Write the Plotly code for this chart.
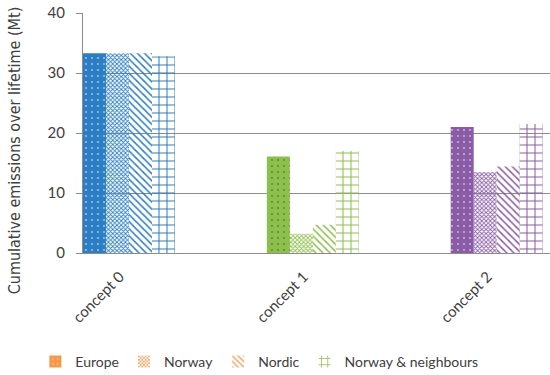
import plotly.graph_objects as go

categories = ["concept 0", "concept 1", "concept 2"]
series_names = ["Europe", "Norway", "Nordic", "Norway & neighbours"]
europe = [33.3, 16.1, 21.0]
norway = [33.3, 3.2, 13.5]
nordic = [33.3, 4.7, 14.4]
norway_neighbours = [32.8, 17.0, 21.5]
y_ticks = [0, 10, 20, 30, 40]
y_title = "Cumulative emissions over lifetime (Mt)"

cat_colors = ["#2B7EC4", "#8CC04B", "#8A5CA8"]
legend_colors = ["#F79646", "#F79646", "#F79646", "#9BBB59"]

series_values = [europe, norway, nordic, norway_neighbours]
FONT = "Lato"
TXT = "#404040"

def pattern(i, colors):
    if i == 0:
        return dict(shape=".", fgcolor="white", size=6, solidity=0.1, fillmode="overlay")
    if i == 1:
        return dict(shape="x", bgcolor="white", fgcolor=colors, size=3, solidity=0.5, fillmode="replace")
    if i == 2:
        return dict(shape="\\", bgcolor="white", fgcolor=colors, size=5, solidity=0.3, fillmode="replace")
    return dict(shape="+", bgcolor="white", fgcolor=colors, size=8, solidity=0.24, fillmode="replace")

fig = go.Figure()
for i, (name, vals) in enumerate(zip(series_names, series_values)):
    fig.add_trace(go.Bar(
        x=categories, y=vals, name=name, showlegend=False,
        offsetgroup=str(i),
        marker=dict(color=cat_colors, line=dict(width=0),
                    pattern=pattern(i, cat_colors)),
    ))
for i, name in enumerate(series_names):
    c = legend_colors[i]
    fig.add_trace(go.Bar(
        x=categories, y=[None] * len(categories), name=name, showlegend=True,
        offsetgroup=str(i),
        marker=dict(color=c, line=dict(width=0), pattern=pattern(i, c)),
    ))

fig.add_annotation(
    text=y_title, textangle=-90, xref="paper", yref="paper",
    x=-0.1467, y=0.43, xanchor="center", yanchor="middle", showarrow=False,
    font=dict(family="Liberation Sans Narrow, DejaVu Sans Condensed, Lato", size=16, color=TXT),
)

fig.update_layout(
    width=550, height=375,
    margin=dict(l=83, r=0, t=13, b=122, autoexpand=False),
    paper_bgcolor="white", plot_bgcolor="white",
    barmode="group", bargap=0.5, bargroupgap=0,
    font=dict(family=FONT, size=15, color=TXT),
    showlegend=True,
    legend=dict(orientation="h", x=-0.102, xanchor="left", y=-0.454, yanchor="middle",
                font=dict(size=14, color=TXT), traceorder="normal"),
    xaxis=dict(range=[-0.25, 2.29], tickangle=-45, showline=True, linecolor="#8C8C8C",
               linewidth=1, ticks="", showgrid=False, automargin=False,
               ticklabelshift=-9, ticklabelstandoff=8,
               tickfont=dict(size=15, color=TXT)),
    yaxis=dict(range=[0, 40], tickvals=y_ticks, showgrid=True, gridcolor="#8C8C8C",
               gridwidth=1, showline=True, linecolor="#8C8C8C", linewidth=1,
               ticks="outside", ticklen=6, tickcolor="#8C8C8C", ticklabelstandoff=8,
               ticklabeloverflow="allow",
               zeroline=False, automargin=False, tickfont=dict(size=15, color=TXT)),
)

fig.write_html("out.html", config={"displayModeBar": False},
               post_script="document.body.style.margin='0px';")
